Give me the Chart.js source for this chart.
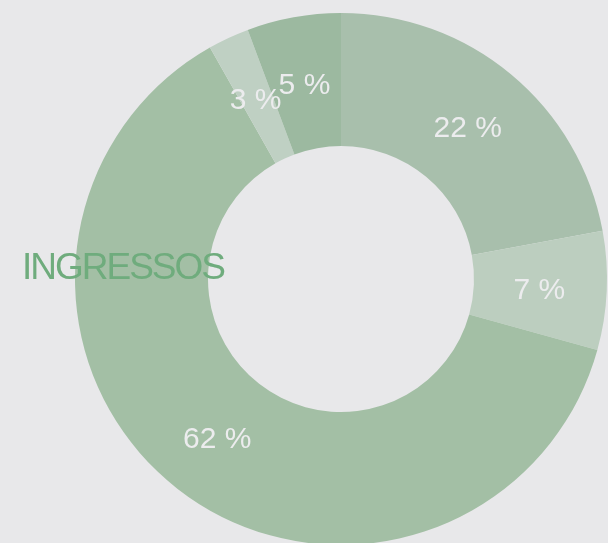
<!DOCTYPE html>
<html>
<head>
<meta charset="utf-8">
<script src="https://cdn.jsdelivr.net/npm/chart.js@4"></script>
<style>
  html, body { margin:0; padding:0; background:#e8e8ea; overflow:hidden; }
  #wrap { position:absolute; left:0; top:0; width:700px; height:560px; }
</style>
</head>
<body>
<div id="wrap"><canvas id="donut" width="700" height="560"></canvas></div>
<script>
// data
const categories = ['A', 'B', 'C', 'D', 'E'];
const shares = [22.1, 7.2, 62.5, 2.5, 5.7];
const shareLabels = ['22 %', '7 %', '62 %', '3 %', '5 %'];
const sliceColors = ['#a8bfac', '#bccebf', '#a3bfa5', '#bfd0c3', '#9cb9a0'];
const title = 'INGRESSOS';

const labelsPlugin = {
  id: 'sliceLabels',
  afterDatasetsDraw(chart) {
    const ctx = chart.ctx;
    const meta = chart.getDatasetMeta(0);
    ctx.save();
    ctx.font = '30px "Liberation Sans", Arial, sans-serif';
    ctx.fillStyle = '#ececee';
    ctx.textAlign = 'center';
    ctx.textBaseline = 'middle';
    meta.data.forEach((arc, i) => {
      const p = arc.tooltipPosition();
      ctx.fillText(shareLabels[i], p.x - 1, p.y + 3);
    });
    // title on the left
    ctx.font = '37px "Liberation Sans", Arial, sans-serif';
    ctx.letterSpacing = '-2px';
    ctx.fillStyle = '#6fac7d';
    ctx.textAlign = 'left';
    ctx.fillText(title, 22, 269);
    ctx.restore();
  }
};

new Chart(document.getElementById('donut'), {
  type: 'doughnut',
  data: {
    labels: categories,
    datasets: [{
      data: shares,
      backgroundColor: sliceColors,
      borderWidth: 0
    }]
  },
  options: {
    responsive: false,
    animation: false,
    cutout: '50%',
    layout: { padding: { left: 75, top: 13, right: 93, bottom: 15 } },
    plugins: { legend: { display: false }, tooltip: { enabled: false } }
  },
  plugins: [labelsPlugin]
});
</script>
</body>
</html>
